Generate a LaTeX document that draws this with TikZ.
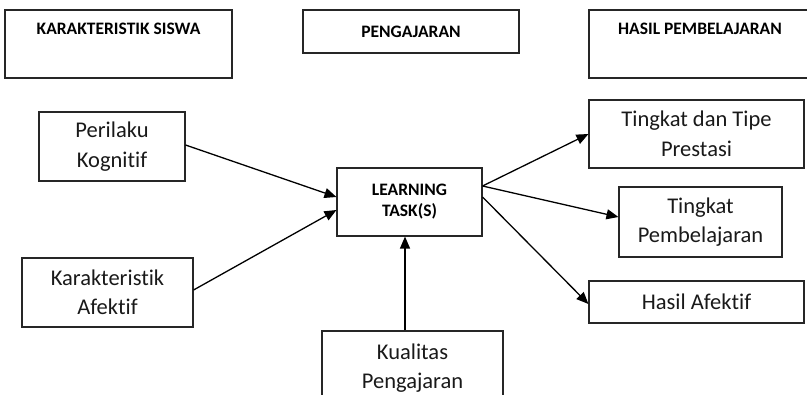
\documentclass[tikz,border=0pt]{standalone}
\usepackage{fontspec}
\setmainfont[Ligatures={NoCommon,NoContextual}]{Carlito}
\usetikzlibrary{arrows.meta}
\begin{document}
\begin{tikzpicture}[x=1bp,y=-1bp,
  box/.style={draw=black!85, line width=1.1bp, rectangle, inner sep=0pt, align=center,
    font=\fontsize{22.5bp}{29.5bp}\selectfont, text=black!90},
  hdr/.style={font=\bfseries\fontsize{17.5bp}{21bp}\selectfont, text=black},
  arr/.style={line width=1.3bp, -{Triangle[length=12bp,width=10bp]}}]
\useasboundingbox (0,0) rectangle (807,394);
\clip (0,0) rectangle (807,394);
% header boxes
\node[box, minimum width=227bp, minimum height=68bp,
  label={[hdr, anchor=center, yshift=-19bp]north:KARAKTERISTIK SISWA}] (ks) at (118.5,44) {};
\node[box, hdr, minimum width=216bp, minimum height=43bp] (pg) at (411,31.5) {PENGAJARAN};
\node[box, minimum width=222bp, minimum height=68bp,
  label={[hdr, anchor=center, yshift=-19bp]north:HASIL PEMBELAJARAN}] (hp) at (700,44) {};
% left boxes
\node[box, minimum width=146bp, minimum height=69bp] (pk) at (112,146.5) {Perilaku\\Kognitif};
\node[box, minimum width=171bp, minimum height=69bp] (ka) at (107.5,292.5) {Karakteristik\\Afektif};
% centre
\node[box, hdr, align=center, minimum width=145bp, minimum height=68bp] (lt) at (409.5,202)
  {\fontsize{17.5bp}{25bp}\selectfont LEARNING\\TASK(S)};
\node[box, minimum width=181bp, minimum height=74bp] (kq) at (412.5,368) {Kualitas\\Pengajaran};
% right boxes
\node[box, minimum width=215bp, minimum height=68bp] (tt) at (696.5,134) {Tingkat dan Tipe\\Prestasi};
\node[box, minimum width=163bp, minimum height=70bp] (tp) at (700.5,222) {Tingkat\\Pembelajaran};
\node[box, minimum width=215bp, minimum height=42bp] (ha) at (696.5,302) {Hasil Afektif};
% connectors
\draw[arr] ([yshift=1.5bp]pk.east) -- ([yshift=5bp]lt.west);
\draw[arr] ([yshift=2.5bp]ka.east) -- ([yshift=-8bp]lt.west);
\draw[arr] (kq.north -| lt.south) ++(-4.5,0) coordinate (kqs) -- (kqs |- lt.south);
\draw[arr] ([yshift=16bp]lt.east) -- (tt.west);
\draw[arr] ([yshift=16bp]lt.east) -- ([yshift=5bp]tp.west);
\draw[arr] ([yshift=5bp]lt.east) -- ([yshift=-2bp]ha.west);
\end{tikzpicture}
\end{document}
